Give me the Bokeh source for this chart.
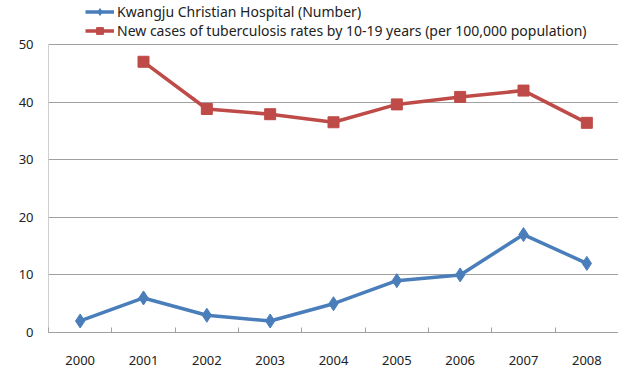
from bokeh.plotting import figure
from bokeh.models import Range1d, FixedTicker, Legend, LegendItem
from bokeh.embed import file_html
from bokeh.resources import INLINE

years = [2000, 2001, 2002, 2003, 2004, 2005, 2006, 2007, 2008]
hospital = [2, 6, 3, 2, 5, 9, 10, 17, 12]
tb_years = [2001, 2002, 2003, 2004, 2005, 2006, 2007, 2008]
tb_rates = [47, 38.8, 37.9, 36.5, 39.6, 40.9, 42, 36.4]
y_ticks = [0, 10, 20, 30, 40, 50]
label_hosp = "Kwangju Christian Hospital (Number)"
label_tb = "New cases of tuberculosis rates by 10-19 years (per 100,000 population)"

blue = "#4a7ebb"
red = "#be4b48"
font = "Noto Sans"
grey = "#a0a0a0"

x_lo, x_hi = 1999.5, 2008.5
y_lo, y_top_axis = 0, 50
# frame extends above the axis top to leave room for the legend
y_hi = y_top_axis * 332 / 288

p = figure(width=618, height=368, output_backend="svg", toolbar_location=None,
           x_range=Range1d(x_lo, x_hi), y_range=Range1d(y_lo, y_hi),
           min_border_left=48, min_border_right=0, min_border_top=0, min_border_bottom=36)
p.outline_line_color = None
p.background_fill_color = "white"

# y axis line only up to 50
p.segment(x0=[x_lo], y0=[y_lo], x1=[x_lo], y1=[y_top_axis], line_color=grey, line_width=1)

r1 = p.line(years, hospital, line_color=blue, line_width=3.5)
m1 = p.scatter(years, hospital, marker="diamond", size=14, fill_color=blue, line_color=blue)
r2 = p.line(tb_years, tb_rates, line_color=red, line_width=3.5)
m2 = p.scatter(tb_years, tb_rates, marker="square", size=11, fill_color=red, line_color=red)

xt = FixedTicker(ticks=years, minor_ticks=[y - 0.5 for y in years] + [2008.5])
p.xaxis.ticker = xt
p.xaxis.major_tick_line_color = None
p.xaxis.minor_tick_out = 0
p.xaxis.minor_tick_in = 5
p.xaxis.minor_tick_line_color = grey
p.xaxis.axis_line_color = grey
p.xaxis.major_label_text_font = font
p.xaxis.major_label_text_font_size = "13px"
p.xaxis.major_label_text_color = "#222222"
p.xaxis.major_label_standoff = 17

p.yaxis.ticker = FixedTicker(ticks=y_ticks)
p.yaxis.major_tick_line_color = None
p.yaxis.minor_tick_line_color = None
p.yaxis.axis_line_color = None
p.yaxis.major_label_text_font = font
p.yaxis.major_label_text_font_size = "13px"
p.yaxis.major_label_text_color = "#222222"
p.yaxis.major_label_standoff = 9

p.xgrid.grid_line_color = None
p.ygrid.ticker = FixedTicker(ticks=y_ticks)
p.ygrid.grid_line_color = grey
p.ygrid.grid_line_width = 1

legend = Legend(items=[LegendItem(label=label_hosp, renderers=[r1, m1]),
                       LegendItem(label=label_tb, renderers=[r2, m2])],
                location=(37, 292), padding=0, spacing=0, margin=0,
                glyph_width=29, glyph_height=17, label_height=17,
                label_standoff=3, label_text_font=font, label_text_font_size="14px",
                label_text_color="#222222", border_line_color=None,
                background_fill_alpha=0)
p.add_layout(legend, "center")

open("out.html", "w").write(file_html(p, INLINE))
